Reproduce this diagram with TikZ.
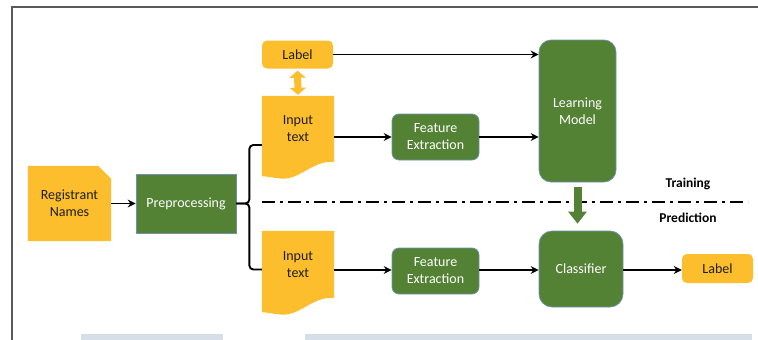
\documentclass[tikz,border=0pt]{standalone}
\usepackage{fontspec}
\setmainfont{Carlito}
\usetikzlibrary{arrows.meta,calc,backgrounds}

\definecolor{docgold}{RGB}{252,190,45}
\definecolor{boxgreen}{RGB}{84,130,53}
\definecolor{edgeblue}{RGB}{110,145,180}
\definecolor{panelgrey}{RGB}{214,223,232}
\definecolor{framegrey}{RGB}{90,90,90}
\definecolor{inktext}{RGB}{30,30,30}

\begin{document}
\begin{tikzpicture}[x=1pt,y=-1pt,
  font=\fontsize{14}{17}\selectfont,
  goldbox/.style={fill=docgold, text=inktext, align=center, inner sep=0pt},
  goldtext/.style={text=inktext, align=center, inner sep=0pt},
  greenbox/.style={fill=boxgreen, draw=edgeblue, line width=0.7pt, text=white, align=center, inner sep=0pt},
  conn/.style={line width=1.9pt, -{Stealth[length=8pt,width=8pt]}},
  phase/.style={font=\fontsize{13.5}{15}\selectfont\bfseries, text=black}
]
\useasboundingbox (0,0) rectangle (758,340);

% page frame and lower panels
\draw[framegrey, line width=1.6pt] (12,341) -- (12,7) -- (759,7);
\fill[panelgrey] (81,334) rectangle (223,341);
\fill[panelgrey] (305,334) rectangle (752,341);

% nodes
\node[goldtext, minimum width=83pt, minimum height=75pt] (reg) at (69.5,203.5) {Registrant\\Names};
\node[greenbox, minimum width=100pt, minimum height=59pt] (prep) at (186,203.5) {Preprocessing};

\node[goldbox, rounded corners=5pt, minimum width=71pt, minimum height=28pt] (lab1) at (297.5,54.5) {Label};
\node[goldtext, minimum width=72pt, minimum height=66pt] (in1) at (298,129) {Input\\text};
\node[goldtext, minimum width=72pt, minimum height=67pt] (in2) at (298,264.5) {Input\\text};

\node[greenbox, rounded corners=7pt, minimum width=87pt, minimum height=46pt] (fe1) at (435.5,137) {Feature\\Extraction};
\node[greenbox, rounded corners=7pt, minimum width=87pt, minimum height=46pt] (fe2) at (435.5,271) {Feature\\Extraction};

\node[greenbox, rounded corners=12pt, minimum width=77pt, minimum height=142pt] (lm) at (577.5,111) {Learning\\Model};
\node[greenbox, rounded corners=13pt, minimum width=84pt, minimum height=76pt] (cls) at (581,269) {Classifier};
\node[goldbox, rounded corners=5pt, minimum width=71pt, minimum height=29pt] (lab2) at (717.5,268.5) {Label};

\node[phase] (train) at (688,184) {Training};
\node[phase] (pred) at (688,218) {Prediction};

% document shapes behind their texts
\begin{scope}[on background layer]
  \fill[docgold] (reg.south west) -- (reg.north west) -- ([xshift=-13pt]reg.north east)
    -- ([yshift=-13pt]reg.north east) -- (reg.south east) -- cycle;
  \foreach \d in {in1,in2}{
    \fill[docgold] (\d.north west) -- (\d.north east) -- (\d.south east)
      .. controls ($(\d.south east)+(-22,-3)$) and ($(\d.south west)+(38,20)$) .. ($(\d.south west)+(16,16)$)
      .. controls ($(\d.south west)+(8,15)$) and ($(\d.south west)+(3,14)$) .. ($(\d.south west)+(0,14)$)
      -- cycle;
  }
\end{scope}

% training / prediction separator
\coordinate (sepL) at (262,202);
\coordinate (sepR) at (748,202);
\draw[line width=2.5pt, dash pattern=on 13pt off 5pt on 3pt off 5pt] (sepL) -- (sepR);

% connectors
\draw[conn] (reg.east) -- (prep.west);
\draw[line width=1.9pt, rounded corners=4pt] (prep.east) -- ++(13,0) |- ([yshift=-16pt]in1.west);
\draw[line width=1.9pt, rounded corners=4pt] (prep.east) -- ++(13,0) |- ([yshift=-5pt]in2.west);

\draw[conn] (lab1.east) -- (lab1.east -| lm.west);
\draw[conn] ([yshift=-8pt]in1.east) -- ([yshift=-8pt]in1.east -| fe1.west);
\draw[conn] (fe1.east) -- (fe1.east -| lm.west);

\draw[conn] ([yshift=-5.5pt]in2.east) -- ([yshift=-5.5pt]in2.east -| fe2.west);
\draw[conn] ([yshift=-5.5pt]in2.east -| fe2.east) -- ([yshift=-5.5pt]in2.east -| cls.west);
\draw[conn] ([yshift=-5.5pt]in2.east -| cls.east) -- ([yshift=-5.5pt]in2.east -| lab2.west);

% block arrows
\draw[docgold, line width=7pt, {Triangle[length=7pt,width=16pt]}-{Triangle[length=7pt,width=16pt]}]
  ([yshift=-2pt]lab1.south) -- ([yshift=1pt]in1.north);
\draw[boxgreen, line width=8pt, -{Triangle[length=12pt,width=18pt]}]
  ([yshift=-5pt]lm.south) -- ([yshift=7pt]lm.south |- cls.north);
\end{tikzpicture}
\end{document}
